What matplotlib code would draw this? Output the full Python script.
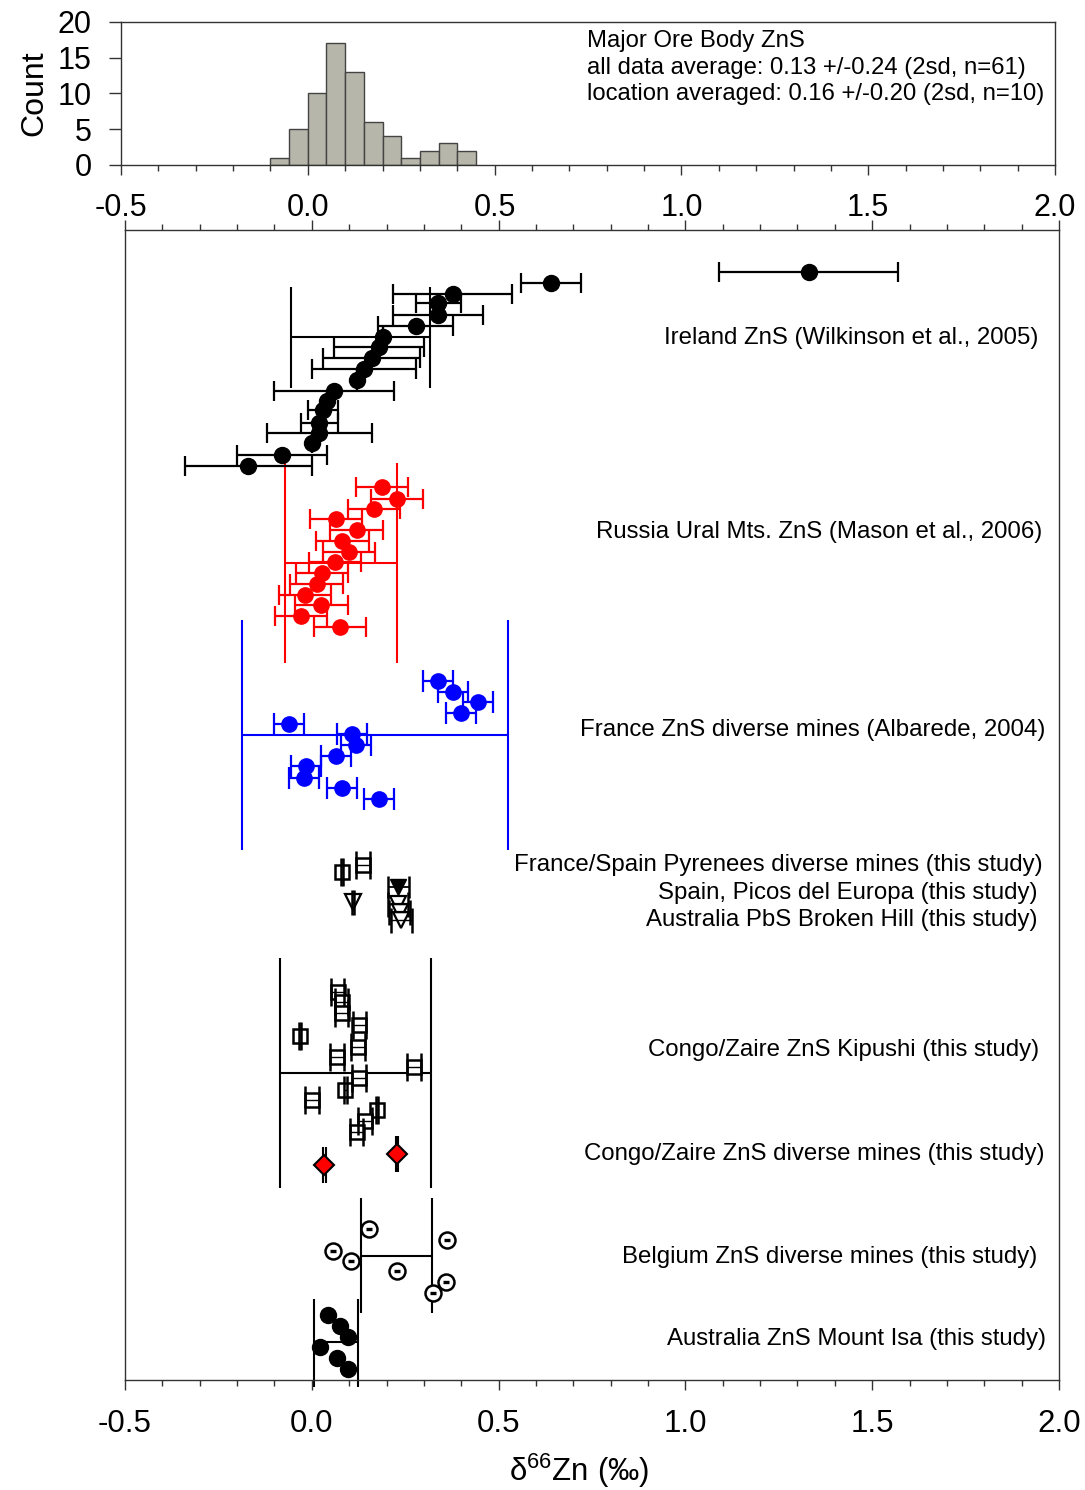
import numpy as np
import matplotlib.pyplot as plt
from matplotlib.ticker import MultipleLocator

plt.rcParams['font.family'] = ['Liberation Sans', 'DejaVu Sans']

# DATA

# histogram of the major ore bodies (bin edges in permil, counts)
hist_edges = [-0.10, -0.05, 0.00, 0.05, 0.10, 0.15, 0.20, 0.25, 0.30, 0.35, 0.40, 0.45]
hist_counts = [1, 5, 10, 17, 13, 6, 4, 1, 2, 3, 2]
hist_note = ("Major Ore Body ZnS\n"
             "all data average: 0.13 +/-0.24 (2sd, n=61)\n"
             "location averaged: 0.16 +/-0.20 (2sd, n=10)")

# sample rows: vertical position (0 = top of panel, 115 = bottom)
ire_x   = [1.33, 0.64, 0.377, 0.339, 0.337, 0.278, 0.19, 0.18, 0.16, 0.14, 0.12,
           0.06, 0.04, 0.03, 0.02, 0.02, 0.00, -0.08, -0.17]
ire_err = [0.24, 0.08, 0.16, 0.06, 0.12, 0.10, 0.0, 0.12, 0.13, 0.14, 0.0,
           0.16, 0.0, 0.04, 0.05, 0.14, 0.0, 0.12, 0.17]
ire_y   = [4.2, 5.3, 6.4, 7.3, 8.5, 9.6, 10.7, 11.7, 12.8, 13.9, 15.0,
           16.1, 17.1, 18.0, 19.3, 20.3, 21.3, 22.5, 23.6]

rus_x   = [0.188, 0.229, 0.166, 0.065, 0.12, 0.082, 0.10, 0.062, 0.028, 0.013,
           -0.018, 0.026, -0.029, 0.075]
rus_err = [0.07] * 14
rus_y   = [25.7, 26.9, 27.9, 28.9, 30.0, 31.1, 32.2, 33.2, 34.3, 35.4,
           36.5, 37.5, 38.6, 39.7]

fra_x   = [0.339, 0.379, 0.444, 0.399, -0.061, 0.108, 0.118, 0.064, -0.016,
           -0.02, 0.08, 0.18]
fra_err = [0.04] * 12
fra_y   = [45.1, 46.2, 47.2, 48.3, 49.4, 50.4, 51.5, 52.6, 53.6, 54.8, 55.8, 56.9]

pyr_x   = [0.138, 0.08]
pyr_err = [0.019, 0.003]
pyr_y   = [63.5, 64.2]

picos_x   = [0.232]
picos_err = [0.027]
picos_y   = [65.7]

bh_x   = [0.111, 0.23, 0.235, 0.24]
bh_err = [0.003, 0.027, 0.027, 0.027]
bh_y   = [67.2, 67.4, 68.2, 69.0]

kip_x   = [0.069, 0.08, 0.08, 0.127, -0.032, 0.124, 0.068, 0.274, 0.126, 0.09,
           0.0, 0.174, 0.142, 0.12]
kip_err = [0.018, 0.018, 0.018, 0.018, 0.003, 0.018, 0.018, 0.018, 0.018, 0.003,
           0.018, 0.003, 0.018, 0.018]
kip_y   = [76.2, 77.2, 78.3, 79.5, 80.6, 81.7, 82.7, 83.7, 84.8, 86.0,
           87.0, 88.0, 89.1, 90.2]

cdm_x   = [0.229, 0.034]
cdm_err = [0.003, 0.003]
cdm_y   = [92.4, 93.5]

bel_x   = [0.153, 0.361, 0.058, 0.105, 0.227, 0.358, 0.325]
bel_err = [0.008] * 7
bel_y   = [99.9, 101.0, 102.1, 103.1, 104.1, 105.2, 106.3]

isa_x = [0.043, 0.075, 0.098, 0.022, 0.068, 0.098]
isa_y = [108.5, 109.6, 110.7, 111.7, 112.8, 113.9]

# location averages: mean, 2sd, row of the bar, vertical extent, colour
avg_mean  = [0.13, 0.078, 0.168, 0.117, 0.227, 0.065]
avg_2sd   = [0.186, 0.151, 0.356, 0.202, 0.095, 0.059]
avg_y     = [10.7, 33.3, 50.5, 84.3, 102.6, 111.2]
avg_top   = [5.7, 23.3, 39.0, 72.8, 96.8, 106.9]
avg_bot   = [15.8, 43.3, 62.0, 95.8, 108.3, 115.7]
avg_color = ["black", "red", "blue", "black", "black", "black"]

# group labels and their rows
group_labels = ["Ireland ZnS (Wilkinson et al., 2005)",
                "Russia Ural Mts. ZnS (Mason et al., 2006)",
                "France ZnS diverse mines (Albarede, 2004)",
                "France/Spain Pyrenees diverse mines (this study)",
                "Spain, Picos del Europa (this study)",
                "Australia PbS Broken Hill (this study)",
                "Congo/Zaire ZnS Kipushi (this study)",
                "Congo/Zaire ZnS diverse mines (this study)",
                "Belgium ZnS diverse mines (this study)",
                "Australia ZnS Mount Isa (this study)"]
label_y = [10.8, 30.2, 50.0, 63.5, 66.3, 69.0, 82.0, 92.4, 102.7, 110.9]
label_x = [0.978, 0.982, 0.985, 0.982, 0.977, 0.977, 0.979, 0.985, 0.977, 0.986]

# PLOT

fig = plt.figure(figsize=(10.85, 14.90), dpi=100)
axh = fig.add_axes([0.1115, 0.8893, 0.8609, 0.0960])
ax = fig.add_axes([0.1152, 0.0738, 0.8608, 0.7718])

spine_col = "#333333"

# histogram
widths = np.diff(hist_edges)
axh.bar(hist_edges[:-1], hist_counts, width=widths, align="edge",
        color="#b6b6aa", edgecolor="#444444", linewidth=1.0)
axh.set_xlim(-0.5, 2.0)
axh.set_ylim(0, 20)
axh.set_yticks([0, 5, 10, 15, 20])
axh.xaxis.set_major_locator(MultipleLocator(0.5))
axh.xaxis.set_minor_locator(MultipleLocator(0.1))
axh.xaxis.set_major_formatter(plt.FormatStrFormatter("%.1f"))
axh.tick_params(axis="x", which="major", direction="out", length=7, width=1,
                labelsize=22, pad=13, colors=spine_col, labelcolor="black")
axh.tick_params(axis="x", which="minor", direction="out", length=4, width=1,
                colors=spine_col)
axh.tick_params(axis="y", direction="out", length=9, width=1, labelsize=22,
                pad=12, colors=spine_col, labelcolor="black")
axh.set_ylabel("Count", fontsize=23, labelpad=6)
for sp in axh.spines.values():
    sp.set_color(spine_col)
    sp.set_linewidth(1.0)
axh.text(0.499, 0.94, hist_note, transform=axh.transAxes, fontsize=17.2,
         va="top", ha="left", linespacing=1.26)

# location average bars (behind the samples)
avg_mean = np.array(avg_mean)
avg_2sd = np.array(avg_2sd)
for m, s, yy, t, b, c in zip(avg_mean, avg_2sd, avg_y, avg_top, avg_bot, avg_color):
    ax.hlines(yy, m - s, m + s, color=c, linewidth=1.5, zorder=1)
    ax.vlines([m - s, m + s], t, b, color=c, linewidth=1.5, zorder=1,
              clip_on=False)

# filled samples: error bars behind the markers
ax.errorbar(ire_x, ire_y, xerr=ire_err, fmt="o", color="black", ms=11.5,
            ecolor="black", elinewidth=1.6, capsize=7, capthick=1.6, zorder=3)
ax.errorbar(rus_x, rus_y, xerr=rus_err, fmt="o", color="red", ms=11,
            ecolor="red", elinewidth=1.6, capsize=7, capthick=1.6, zorder=3)
ax.errorbar(fra_x, fra_y, xerr=fra_err, fmt="o", color="blue", ms=11,
            ecolor="blue", elinewidth=1.6, capsize=8, capthick=1.6, zorder=3)
ax.errorbar(picos_x, picos_y, xerr=picos_err, fmt="v", mfc="black",
            mec="black", ms=11, ecolor="black", elinewidth=1.3, capsize=8,
            capthick=1.8, zorder=3)
ax.errorbar(cdm_x, cdm_y, xerr=cdm_err, fmt="D", mfc="red", mec="black",
            mew=1.5, ms=10, ecolor="black", elinewidth=1.3, capsize=13,
            capthick=1.5, zorder=3)
ax.plot(isa_x, isa_y, "o", color="black", ms=11.5, zorder=3)

# open samples: error bars drawn over the hollow markers
ax.plot(pyr_x, pyr_y, "s", mfc="white", mec="black", mew=1.8, ms=10.5, zorder=3)
ax.errorbar(pyr_x, pyr_y, xerr=pyr_err, fmt="none", ecolor="black",
            elinewidth=1.0, capsize=10, capthick=1.8, zorder=4)
ax.plot(bh_x, bh_y, "v", mfc="white", mec="black", mew=1.6, ms=11, zorder=3)
ax.errorbar(bh_x, bh_y, xerr=bh_err, fmt="none", ecolor="black",
            elinewidth=1.0, capsize=9, capthick=1.8, zorder=4)
ax.plot(kip_x, kip_y, "s", mfc="white", mec="black", mew=1.8, ms=10.5, zorder=3)
ax.errorbar(kip_x, kip_y, xerr=kip_err, fmt="none", ecolor="black",
            elinewidth=1.0, capsize=10, capthick=1.8, zorder=4)
ax.plot(bel_x, bel_y, "o", mfc="white", mec="black", mew=1.8, ms=11.5, zorder=3)
ax.errorbar(bel_x, bel_y, xerr=bel_err, fmt="none", ecolor="black",
            elinewidth=2.4, capsize=0, zorder=4)

for txt, yy, xx in zip(group_labels, label_y, label_x):
    ax.text(xx, yy, txt, transform=ax.get_yaxis_transform(), fontsize=17.3,
            ha="right", va="center")

ax.set_xlim(-0.5, 2.0)
ax.set_ylim(115, 0)
ax.set_yticks([])
ax.xaxis.set_major_locator(MultipleLocator(0.5))
ax.xaxis.set_minor_locator(MultipleLocator(0.1))
ax.xaxis.set_major_formatter(plt.FormatStrFormatter("%.1f"))
ax.tick_params(axis="x", which="both", top=True, bottom=True, direction="out",
               colors=spine_col, labelcolor="black")
ax.tick_params(axis="x", which="major", length=7, width=1, labelsize=22.5,
               pad=14)
ax.tick_params(axis="x", which="minor", length=4, width=1)
for sp in ax.spines.values():
    sp.set_color(spine_col)
    sp.set_linewidth(1.0)
ax.set_xlabel(r"$\mathregular{\delta^{66}Zn}$ (‰)", fontsize=22.5)
ax.xaxis.set_label_coords(0.486, -0.062)

fig.savefig("out.png", dpi=100, facecolor="white")
